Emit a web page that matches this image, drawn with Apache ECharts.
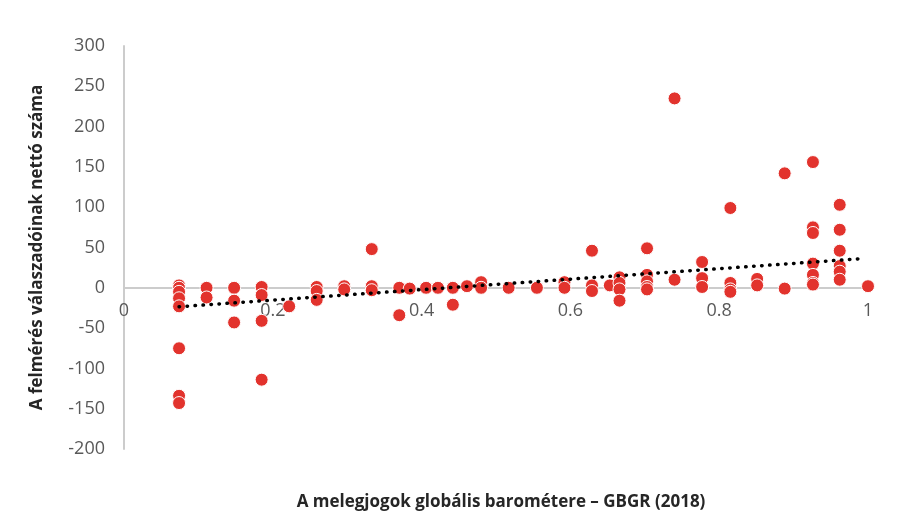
<!DOCTYPE html>
<html>
<head>
<meta charset="utf-8">
<script src="https://cdn.jsdelivr.net/npm/echarts@6/dist/echarts.min.js"></script>
<style>html,body{margin:0;padding:0;background:#fff}#c{width:914px;height:523px}</style>
</head>
<body>
<div id="c"></div>
<script>
// GBGR score (x) for each country observation
const xValues = [
  0.074,0.074,0.074,0.074,0.074,0.074,0.074,0.074,
  0.111,0.111,
  0.148,0.148,0.148,
  0.185,0.185,0.185,0.185,
  0.222,
  0.259,0.259,0.259,
  0.296,0.296,
  0.333,0.333,0.333,
  0.370,0.370,
  0.384,0.406,0.422,
  0.442,0.442,
  0.461,
  0.480,0.480,
  0.517,0.555,
  0.592,0.592,
  0.629,0.629,0.629,
  0.653,
  0.666,0.666,0.666,0.666,
  0.703,0.703,0.703,0.703,0.703,
  0.740,0.740,
  0.777,0.777,0.777,
  0.815,0.815,0.815,0.815,
  0.851,0.851,
  0.888,0.888,
  0.926,0.926,0.926,0.926,0.926,0.926,0.926,
  0.962,0.962,0.962,0.962,0.962,0.962,
  1.0
];
// Net number of survey respondents (y)
const yValues = [
  3,0,-5,-13,-23,-75,-134,-143,
  0,-12,
  0,-16,-43,
  1,-9,-41,-114,
  -23,
  1,-4,-15,
  2,-2,
  48,2,-3,
  0,-34,
  -1,0,0,
  0,-21,
  2,
  7,0,
  0,0,
  7,0,
  46,3,-4,
  3,
  13,6,-2,-16,
  49,16,8,1,-2,
  235,10,
  32,12,1,
  99,6,-2,-5,
  11,3,
  142,-1,
  156,75,68,30,16,6,4,
  103,72,46,27,20,10,
  2
];
// Linear trend line (start and end)
const trendX = [0.074, 0.996];
const trendY = [-23.5, 36.5];
const xTicks = [0, 0.2, 0.4, 0.6, 0.8, 1];
const yTicks = [-200, -150, -100, -50, 0, 50, 100, 150, 200, 250, 300];
const xTitle = 'A melegjogok globális barométere – GBGR (2018)';
const yTitle = 'A felmérés válaszadóinak nettó száma';

const points = xValues.map((x, i) => [x, yValues[i]]);
const trend = trendX.map((x, i) => [x, trendY[i]]);

const gridTop = 46, gridBottom = 74, H = 523;
const yMin = yTicks[0], yMax = yTicks[yTicks.length - 1];
const plotH = H - gridTop - gridBottom;
const zeroOffset = -plotH * (0 - yMin) / (yMax - yMin);

const chart = echarts.init(document.getElementById('c'));
const font = '"Open Sans", sans-serif';
chart.setOption({
  animation: false,
  grid: { left: 124, right: 46, top: gridTop, bottom: gridBottom },
  xAxis: {
    type: 'value', min: 0, max: 1, interval: 0.2, offset: zeroOffset,
    axisLine: { onZero: false, lineStyle: { color: '#cccccc', width: 2 } },
    axisTick: { show: false },
    splitLine: { show: false },
    axisLabel: { color: '#595959', fontSize: 18, fontFamily: font, margin: 14,
      formatter: v => xTicks.includes(+v.toFixed(1)) ? String(+v.toFixed(1)) : '' }
  },
  yAxis: {
    type: 'value', min: yMin, max: yMax, interval: 50,
    axisLine: { show: true, onZero: false, lineStyle: { color: '#cccccc', width: 2 } },
    axisTick: { show: false },
    splitLine: { show: false },
    axisLabel: { color: '#595959', fontSize: 18, fontFamily: font, margin: 19 },
    name: yTitle, nameLocation: 'middle', nameGap: 78,
    nameTextStyle: { color: '#262626', fontSize: 17, fontWeight: 'bold', fontFamily: font }
  },
  graphic: [{
    type: 'text', x: 501, y: 502,
    style: { text: xTitle, fill: '#262626', font: 'bold 17px ' + font, align: 'center', verticalAlign: 'middle' }
  }],
  series: [{
    type: 'scatter', data: points, symbolSize: 13,
    itemStyle: { color: '#e2332d', borderColor: '#ffffff', borderWidth: 1, opacity: 1 }
  }, {
    type: 'line', data: trend, symbol: 'none', silent: true,
    lineStyle: { color: '#000000', width: 3.5, type: [0.5, 7.5], cap: 'round' }
  }]
});
</script>
</body>
</html>
